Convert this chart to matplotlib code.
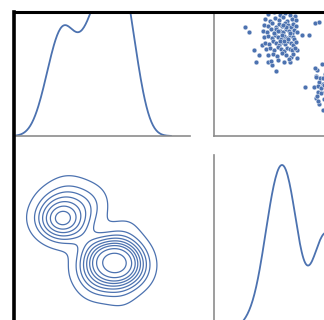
import matplotlib
matplotlib.use("Agg")
import matplotlib.pyplot as plt
import seaborn as sns
import numpy as np
import pandas as pd
from matplotlib.lines import Line2D
from matplotlib.patches import Rectangle

# first group: low b, high a
b1 = [1.55, 1.75, 2.0, 2.1, 2.25, 2.4, 2.7, 2.9, 3.1, 3.8, 4.15, 4.15, 4.4, 4.75, 5.05, 5.25,
      2.7, 3.0, 3.3, 3.55, 3.8, 4.05,
      2.55, 2.8, 3.05, 3.25, 3.45, 3.65, 3.9, 4.1,
      2.5, 2.7, 2.9, 3.1, 3.25, 3.4, 3.55, 3.7, 3.85, 3.95, 4.1,
      2.45, 2.65, 2.85, 3.0, 3.15, 3.3, 3.45, 3.6, 3.75, 3.9, 4.0, 4.15,
      2.5, 2.7, 2.9, 3.05, 3.2, 3.35, 3.5, 3.65, 3.8, 3.95, 4.0,
      2.55, 2.75, 2.95, 3.1, 3.25, 3.4, 3.55, 3.7, 3.85, 3.95, 4.1,
      2.6, 2.8, 3.0, 3.2, 3.35, 3.5, 3.65, 3.8, 3.9, 4.05,
      2.7, 2.95, 3.15, 3.4, 3.6, 3.85, 3.95,
      2.85, 3.2, 3.5, 3.75,
      3.12, 3.38, 3.62, 3.28, 3.52, 3.78, 2.98, 3.46, 3.7, 3.2,
      3.15, 3.6, 2.9]
a1 = [5.45, 5.2, 4.3, 3.7, 4.05, 4.55, 3.7, 3.55, 3.25, 3.7, 3.9, 4.3, 5.05, 5.05, 5.65, 5.7,
      6.1, 6.2, 6.05, 6.15, 6.05, 6.0,
      5.85, 5.75, 5.9, 5.8, 5.95, 5.75, 5.85, 5.8,
      5.55, 5.5, 5.65, 5.45, 5.6, 5.5, 5.65, 5.55, 5.45, 5.6, 5.5,
      5.25, 5.2, 5.35, 5.15, 5.3, 5.25, 5.2, 5.35, 5.25, 5.15, 5.3, 5.2,
      4.95, 5.0, 4.9, 5.05, 4.95, 4.85, 5.0, 4.9, 5.05, 4.95, 4.85,
      4.65, 4.6, 4.75, 4.65, 4.55, 4.7, 4.6, 4.75, 4.65, 4.55, 4.7,
      4.35, 4.4, 4.3, 4.45, 4.35, 4.25, 4.4, 4.35, 4.3, 4.4,
      4.05, 4.1, 4.0, 4.15, 4.05, 3.95, 4.1,
      3.75, 3.8, 3.7, 3.85,
      5.37, 5.07, 5.43, 4.77, 4.73, 5.17, 5.13, 5.53, 4.83, 5.25,
      6.35, 6.4, 6.3]

# second group: high b, low a
b2 = [5.0, 5.1, 5.2, 5.25, 5.1, 5.15, 5.2, 5.25, 5.3, 5.35,
      5.4, 5.45, 5.5, 5.55, 5.6, 5.65, 5.65, 5.7, 5.75, 5.8,
      5.85, 5.9, 5.95, 6.0, 6.05, 6.1, 6.15, 6.2, 6.25, 6.3,
      6.35, 6.4, 6.45, 6.55, 6.6, 6.65, 6.75, 6.85, 6.95, 7.05,
      7.15, 7.35, 5.45, 5.85, 5.15, 5.35, 5.55, 5.75, 5.45, 5.95,
      5.7, 5.6, 5.8, 5.5, 6.05, 6.25, 6.75, 5.2, 6.5, 5.9,
      5.05, 5.1, 4.55]
a2 = [2.45, 3.0, 2.2, 2.7, 1.9, 3.3, 2.5, 1.6, 2.9, 2.15,
      3.6, 2.6, 1.85, 3.1, 2.35, 2.8, 1.5, 2.05, 3.35, 2.5,
      1.75, 2.95, 2.2, 3.7, 2.65, 1.95, 3.15, 2.4, 2.85, 1.7,
      3.5, 2.2, 2.7, 3.9, 2.45, 3.2, 1.9, 2.9, 3.6, 2.3,
      3.1, 2.6, 1.3, 1.2, 2.0, 2.4, 2.2, 2.7, 2.9, 2.45,
      2.3, 1.95, 2.1, 2.55, 3.4, 4.1, 4.2, 1.75, 1.55, 3.9,
      3.4, 2.95, 2.45]

df = pd.DataFrame({"a": a1 + a2, "b": b1 + b2})

blue = "#4c72b0"
W, H = 324, 320
fig = plt.figure(figsize=(W / 100, H / 100), dpi=100)


def box(left, top, size=176):
    # axes placed in pixel units measured from the top-left corner
    return fig.add_axes([left / W, 1 - (top + size) / H, size / W, size / H])


def kde_contours(ax, x, y, levels=10, thresh=0.05, gridsize=200, cut=3):
    # product-kernel density with Scott bandwidth in each direction
    x = np.asarray(x)
    y = np.asarray(y)
    f = len(x) ** (-1 / 6)
    hx, hy = f * x.std(ddof=1), f * y.std(ddof=1)
    gx = np.linspace(x.min() - cut * hx, x.max() + cut * hx, gridsize)
    gy = np.linspace(y.min() - cut * hy, y.max() + cut * hy, gridsize)
    X, Y = np.meshgrid(gx, gy)
    Z = np.zeros_like(X)
    for xi, yi in zip(x, y):
        Z += np.exp(-0.5 * ((X - xi) / hx) ** 2 - 0.5 * ((Y - yi) / hy) ** 2)
    Z /= len(x) * 2 * np.pi * hx * hy
    # iso-proportion levels, same rule seaborn uses
    props = np.linspace(thresh, 1, levels)
    zs = np.sort(Z.ravel())[::-1]
    cum = np.cumsum(zs) / zs.sum()
    lv = np.take(zs, np.searchsorted(cum, 1 - props), mode="clip")
    ax.contour(X, Y, Z, levels=np.unique(lv), colors=blue, linewidths=0.9)


ax_aa = box(14, -40)
ax_ab = box(214, -40)
ax_ba = box(14, 155)
ax_bb = box(214, 155)

sns.kdeplot(x=df["a"], ax=ax_aa, color=blue, lw=1.3)
sns.kdeplot(x=df["b"], ax=ax_bb, color=blue, lw=1.3)
ax_ab.scatter(df["b"], df["a"], s=12, color=blue, edgecolor="white", linewidth=0.3)
kde_contours(ax_ba, df["a"], df["b"])

# diagonal heights: b peak just under the top, a shoulder at about 63%
yb = ax_bb.lines[0].get_ydata()
ax_bb.set_ylim(0, yb.max() / 0.943)
ya = ax_aa.lines[0].get_ydata()
bumps = np.where((ya[1:-1] > ya[:-2]) & (ya[1:-1] > ya[2:]))[0] + 1
ax_aa.set_ylim(0, ya[bumps[0]] / 0.63)

for ax in (ax_aa, ax_ab, ax_ba, ax_bb):
    ax.set_xlim(0, 8.8)
ax_ab.set_ylim(0, 8.8)
ax_ba.set_ylim(0, 8.8)

for ax in (ax_aa, ax_ab, ax_ba, ax_bb):
    ax.set_xticks([])
    ax.set_yticks([])
    ax.set_xlabel("")
    ax.set_ylabel("")
    for side in ("top", "right"):
        ax.spines[side].set_visible(False)
    for side in ("left", "bottom"):
        ax.spines[side].set_color("#8c8c8c")
        ax.spines[side].set_linewidth(1.2)

# white margin and black frame on top
fig.add_artist(Rectangle((0, 1 - 11 / H), 1, 11 / H, transform=fig.transFigure,
                         facecolor="white", edgecolor="none", zorder=20))
fig.add_artist(Rectangle((0, 0), 13 / W, 1, transform=fig.transFigure,
                         facecolor="white", edgecolor="none", zorder=20))
fig.add_artist(Line2D([14 / W, 14 / W], [0, 1 - 11.5 / H], transform=fig.transFigure,
                      color="black", lw=2.6, zorder=21, solid_capstyle="projecting"))
fig.add_artist(Line2D([14 / W, 1], [1 - 11.5 / H, 1 - 11.5 / H], transform=fig.transFigure,
                      color="black", lw=2.2, zorder=21, solid_capstyle="projecting"))

fig.savefig("out.png", dpi=100)
